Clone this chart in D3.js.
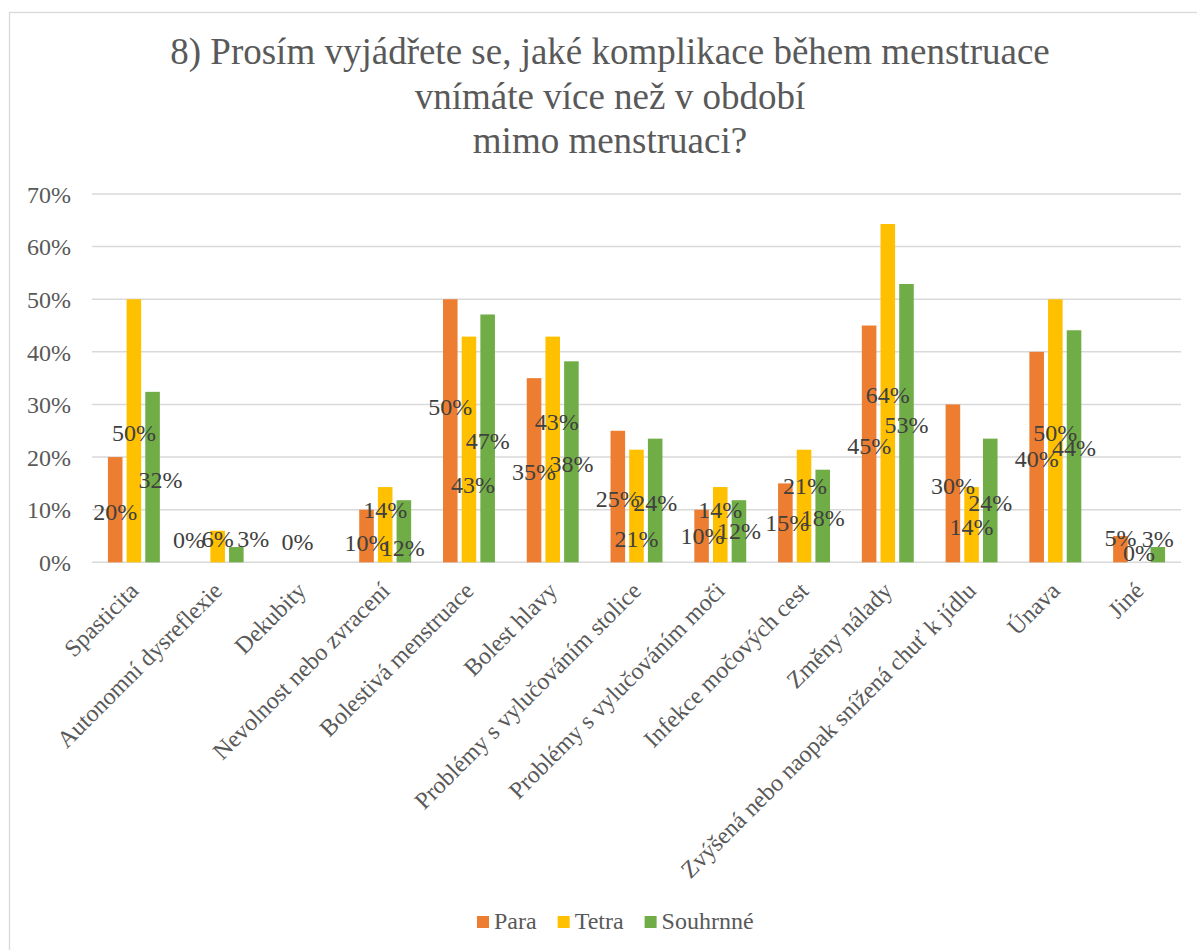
<!DOCTYPE html>
<html>
<head>
<meta charset="utf-8">
<script src="https://cdn.jsdelivr.net/npm/d3@7"></script>
<style>
  html, body { margin: 0; padding: 0; background: #fff; }
  svg text, svg tspan { font-family: "Liberation Serif", "Times New Roman", Tinos, serif !important; }
</style>
</head>
<body>
<svg id="chart" width="1197" height="950"></svg>
<script>
// Survey answers: complications felt more during menstruation (share of respondents, %)
const categories = [
  "Spasticita",
  "Autonomní dysreflexie",
  "Dekubity",
  "Nevolnost nebo zvracení",
  "Bolestivá menstruace",
  "Bolest hlavy",
  "Problémy s vylučováním stolice",
  "Problémy s vylučováním moči",
  "Infekce močových cest",
  "Změny nálady",
  "Zvýšená nebo naopak snížená chuť k jídlu",
  "Únava",
  "Jiné"
];
const seriesNames = ["Para", "Tetra", "Souhrnné"];
const para     = [20, 0, null, 10, 50, 35, 25, 10, 15, 45, 30, 40, 5];
const tetra    = [50, 6, 0, 14.3, 42.9, 42.9, 21.4, 14.3, 21.4, 64.3, 14.3, 50, 0];
const souhrnne = [32.4, 2.9, null, 11.8, 47.1, 38.2, 23.5, 11.8, 17.6, 52.9, 23.5, 44.1, 2.9];
const yTickValues = [0, 10, 20, 30, 40, 50, 60, 70];
const yTickLabels = ["0%", "10%", "20%", "30%", "40%", "50%", "60%", "70%"];
const titleLines = [
  "8) Prosím vyjádřete se, jaké komplikace během menstruace",
  "vnímáte více než v období",
  "mimo menstruaci?"
];

const colors = ["#ED7D31", "#FFC000", "#70AD47"];
const seriesValues = [para, tetra, souhrnne];

// Hand-placed data label offsets (px) where labels were moved off the bar middle
const labelNudges = {
  "0|2": [8, 3],
  "1|0": [-10, -22], "1|1": [0, -8], "1|2": [17, -16],
  "2|1": [-4, -20],
  "3|0": [0, 7], "3|1": [0, -15], "3|2": [-1, 17],
  "4|0": [0, -24], "4|1": [4, 35],
  "5|1": [4, -28],
  "6|1": [0, 33],
  "7|0": [1, 0], "7|1": [0, -15], "7|2": [0, 0],
  "8|0": [2, 0], "8|1": [1, -20],
  "12|0": [0, -11], "12|1": [0, -9], "12|2": [0, -16]
};

const FONT = "Liberation Serif";
const textGray = "#595959";
const labelGray = "#404040";

function draw() {
  const svg = d3.select("#chart").attr("font-family", FONT);

  // Chart frame
  svg.append("rect")
    .attr("x", 9.5).attr("y", 12.5)
    .attr("width", 1250).attr("height", 1000)
    .attr("fill", "#fff")
    .attr("stroke", "#d9d9d9")
    .attr("stroke-width", 1.3);

  // Title
  const title = svg.append("text")
    .attr("text-anchor", "middle")
    .attr("fill", textGray)
    .attr("font-family", FONT)
    .attr("font-size", 37);
  titleLines.forEach((t, i) => {
    title.append("tspan")
      .attr("x", 610)
      .attr("y", 64 + i * 44.5)
      .text(t);
  });

  // Plot area
  const plot = { left: 92, right: 1181, top: 194, bottom: 562.3 };

  const x0 = d3.scaleBand()
    .domain(d3.range(categories.length))
    .range([plot.left, plot.right])
    .paddingInner(0.38)
    .paddingOuter(0.19);

  const x1 = d3.scaleBand()
    .domain(d3.range(seriesNames.length))
    .range([0, x0.bandwidth()])
    .paddingInner(0.22);

  const y = d3.scaleLinear()
    .domain([0, 70])
    .range([plot.bottom, plot.top]);

  // Gridlines
  svg.append("g")
    .selectAll("line")
    .data(yTickValues)
    .join("line")
    .attr("x1", plot.left)
    .attr("x2", plot.right)
    .attr("y1", d => y(d))
    .attr("y2", d => y(d))
    .attr("stroke", "#d9d9d9")
    .attr("stroke-width", 1.5);

  // Y axis labels
  const yAxis = d3.axisLeft(y)
    .tickValues(yTickValues)
    .tickFormat((d, i) => yTickLabels[i])
    .tickSize(0)
    .tickPadding(0);

  const yAxisG = svg.append("g")
    .attr("transform", `translate(${plot.left - 21},0)`)
    .call(yAxis)
    .attr("font-family", FONT)
    .attr("font-size", 24);
  yAxisG.select(".domain").remove();
  yAxisG.selectAll("text")
    .attr("fill", textGray)
    .attr("dy", "0.34em")
    .attr("font-family", FONT)
    .attr("font-size", 24);

  // Bars
  const barData = [];
  categories.forEach((c, ci) => {
    seriesValues.forEach((vals, si) => {
      const v = vals[ci];
      if (v !== null && v !== undefined) barData.push({ ci, si, v });
    });
  });

  svg.append("g")
    .selectAll("rect")
    .data(barData)
    .join("rect")
    .attr("x", d => x0(d.ci) + x1(d.si))
    .attr("y", d => y(d.v))
    .attr("width", x1.bandwidth())
    .attr("height", d => y(0) - y(d.v))
    .attr("fill", d => colors[d.si]);

  // Category axis labels (rotated)
  const xAxis = d3.axisBottom(x0)
    .tickFormat(i => categories[i])
    .tickSize(0)
    .tickPadding(0);

  const xAxisG = svg.append("g")
    .attr("transform", `translate(0,${plot.bottom})`)
    .call(xAxis)
    .attr("font-family", FONT)
    .attr("font-size", 24);
  xAxisG.select(".domain").remove();
  xAxisG.selectAll("text")
    .attr("fill", textGray)
    .attr("text-anchor", "end")
    .attr("x", 0).attr("y", 0).attr("dy", null)
    .attr("transform", "translate(6,30) rotate(-45)")
    .attr("font-family", FONT)
    .attr("font-size", 24);

  // Data labels
  svg.append("g")
    .selectAll("text")
    .data(barData)
    .join("text")
    .attr("text-anchor", "middle")
    .attr("fill", labelGray)
    .attr("font-family", FONT)
    .attr("font-size", 24)
    .attr("x", d => {
      const n = labelNudges[d.ci + "|" + d.si] || [0, 2];
      return x0(d.ci) + x1(d.si) + x1.bandwidth() / 2 + n[0];
    })
    .attr("y", d => {
      const n = labelNudges[d.ci + "|" + d.si] || [0, 2];
      return y(d.v / 2) + n[1];
    })
    .attr("dy", "0.34em")
    .text(d => Math.round(d.v) + "%");

  // Legend
  const legend = svg.append("g");
  let lx = 477;
  seriesNames.forEach((name, i) => {
    legend.append("rect")
      .attr("x", lx).attr("y", 916)
      .attr("width", 12).attr("height", 12)
      .attr("fill", colors[i]);
    const t = legend.append("text")
      .attr("x", lx + 17)
      .attr("y", 929)
      .attr("fill", textGray)
      .attr("font-family", FONT)
      .attr("font-size", 24)
      .text(name);
    lx += 17 + t.node().getComputedTextLength() + 21;
  });
}

document.fonts.check("24px '" + FONT + "'");
draw();
</script>
</body>
</html>
